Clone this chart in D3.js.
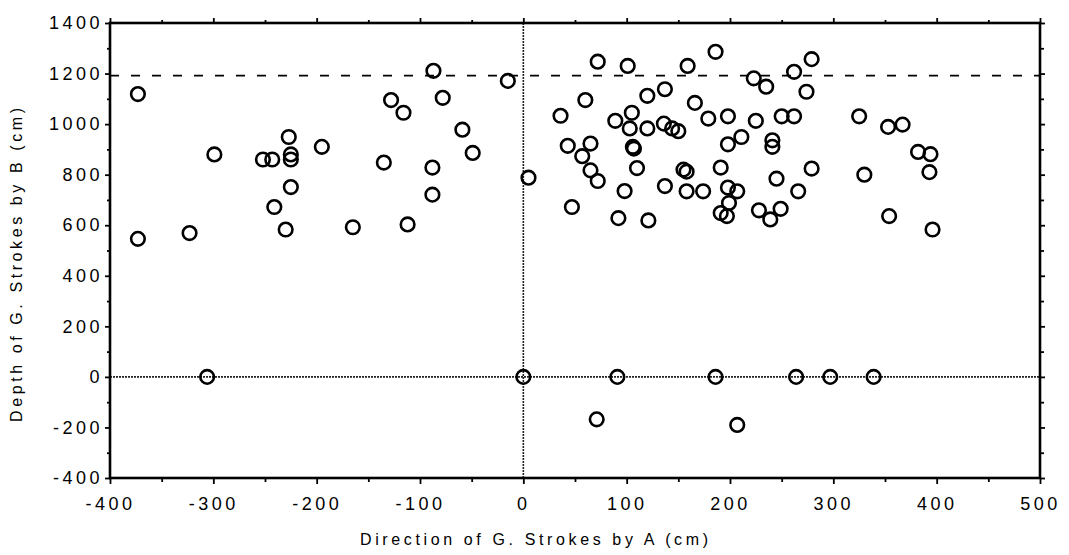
<!DOCTYPE html>
<html>
<head>
<meta charset="utf-8">
<script src="https://cdn.jsdelivr.net/npm/d3@7"></script>
<style>
  body { margin: 0; background: #fff; }
  .tick text { font-family: "Liberation Sans", Arial, Helvetica, sans-serif; font-size: 18px; letter-spacing: 3.5px; fill: #000; }
  .tick line { stroke: #000; stroke-width: 1.8; }
  .title { font-family: "Liberation Sans Narrow", "Liberation Sans", Arial, sans-serif; font-size: 16px; fill: #000; }
</style>
</head>
<body>
<div id="chart"></div>
<script>
// G. strokes: direction by A (x) vs depth by B (y), both in cm
var cloudX = [-373, -373, -323, -299, -252, -243, -227, -225, -225, -195, -225, -241, -230,
    -165, -135, -128, -116, -112, -87, -78, -88, -88, -59, -49, -15, 5,
    36, 43, 47, 57, 60, 65, 65, 72, 72, 89, 92, 98, 101, 103, 105, 106, 107, 110,
    120, 120, 121, 136, 137, 137, 144, 150,
    159, 186, 279, 262, 223, 235, 274, 166, 179, 198, 225, 250, 262, 211, 198,
    241, 241, 155, 158, 191, 245, 279, 158, 174, 198, 207, 199, 191, 197, 228,
    249, 239, 266,
    325, 353, 367, 382, 394, 393, 330, 354, 396];
var cloudY = [1119, 546, 569, 880, 860, 860, 949, 880, 860, 910, 751, 672, 583,
    592, 848, 1095, 1045, 603, 1211, 1104, 828, 721, 978, 886, 1171, 788,
    1033, 914, 672, 873, 1095, 923, 817, 775, 1247, 1013, 628, 735, 1230, 983, 1045, 910, 903, 826,
    1112, 983, 619, 1002, 1138, 755, 983, 972,
    1230, 1286, 1257, 1207, 1181, 1148, 1128, 1084, 1022, 1031, 1013, 1031, 1031, 949, 920,
    936, 910, 820, 812, 828, 784, 824, 734, 734, 749, 734, 688, 648, 636, 659,
    665, 623, 734,
    1031, 989, 998, 890, 881, 810, 800, 636, 583];

// strokes that landed on the zero line, and the two below it
var zeroX = [-306, 0, 91, 186, 264, 297, 339];
var belowX = [71, 207];
var belowY = [-168, -190];

var dashedRef = 1192;

var xTicks = [-400, -300, -200, -100, 0, 100, 200, 300, 400, 500];
var xMinor = [-350, -250, -150, -50, 50, 150, 250, 350, 450];
var yTicks = [-400, -200, 0, 200, 400, 600, 800, 1000, 1200, 1400];
var yMinor = [-300, -100, 100, 300, 500, 700, 900, 1100, 1300];

var W = 1069, H = 555;
var x = d3.scaleLinear().domain([-400, 500]).range([110, 1040]);
var y = d3.scaleLinear().domain([-400, 1400]).range([478, 23]);

var svg = d3.select("#chart").append("svg")
    .attr("width", W)
    .attr("height", H);

svg.append("rect").attr("width", W).attr("height", H).attr("fill", "#fff");

// reference lines
svg.append("line")
    .attr("x1", x(-400)).attr("x2", x(500))
    .attr("y1", y(0)).attr("y2", y(0))
    .attr("stroke", "#222").attr("stroke-width", 1.6)
    .attr("stroke-dasharray", "2,1");
svg.append("line")
    .attr("x1", x(0)).attr("x2", x(0))
    .attr("y1", y(-400)).attr("y2", y(1400))
    .attr("stroke", "#222").attr("stroke-width", 1.6)
    .attr("stroke-dasharray", "2,1");
svg.append("line")
    .attr("x1", x(-400)).attr("x2", x(500))
    .attr("y1", y(dashedRef)).attr("y2", y(dashedRef))
    .attr("stroke", "#000").attr("stroke-width", 1.7)
    .attr("stroke-dasharray", "9,12");

function noFmt() { return ""; }

// bottom axis
var gb = svg.append("g").attr("transform", "translate(0," + y(-400) + ")");
gb.call(d3.axisBottom(x).tickValues(xTicks).tickSize(6).tickPadding(13).tickFormat(function(d) { return String(d); }));
gb.append("g").call(d3.axisBottom(x).tickValues(xMinor).tickSize(4).tickFormat(noFmt));
// top axis
var gt = svg.append("g").attr("transform", "translate(0," + y(1400) + ")");
gt.call(d3.axisTop(x).tickValues(xTicks).tickSize(5).tickFormat(noFmt));
gt.append("g").call(d3.axisTop(x).tickValues(xMinor).tickSize(3).tickFormat(noFmt));
// left axis
var gl = svg.append("g").attr("transform", "translate(" + x(-400) + ",0)");
gl.call(d3.axisLeft(y).tickValues(yTicks).tickSize(5).tickPadding(2).tickFormat(function(d) { return String(d); }));
gl.append("g").call(d3.axisLeft(y).tickValues(yMinor).tickSize(3).tickFormat(noFmt));
// right axis
var gr = svg.append("g").attr("transform", "translate(" + x(500) + ",0)");
gr.call(d3.axisRight(y).tickValues(yTicks).tickSize(5).tickFormat(noFmt));
gr.append("g").call(d3.axisRight(y).tickValues(yMinor).tickSize(4).tickFormat(noFmt));

svg.selectAll(".domain").remove();

// frame
svg.append("rect")
    .attr("x", x(-400)).attr("y", y(1400))
    .attr("width", x(500) - x(-400))
    .attr("height", y(-400) - y(1400))
    .attr("fill", "none")
    .attr("stroke", "#000")
    .attr("stroke-width", 2.6);

// points
var pts = cloudX.map(function(d, i) { return [d, cloudY[i]]; })
    .concat(zeroX.map(function(d) { return [d, 0]; }))
    .concat(belowX.map(function(d, i) { return [d, belowY[i]]; }));

svg.append("g").selectAll("circle")
    .data(pts)
    .enter()
    .append("circle")
    .attr("cx", function(d) { return x(d[0]); })
    .attr("cy", function(d) { return y(d[1]); })
    .attr("r", 6.8)
    .attr("fill", "none")
    .attr("stroke", "#000")
    .attr("stroke-width", 2.6);

// titles
svg.append("text")
    .attr("class", "title")
    .attr("x", 534).attr("y", 545)
    .attr("text-anchor", "middle")
    .attr("textLength", 348)
    .attr("lengthAdjust", "spacing")
    .text("Direction of G. Strokes by A (cm)");

svg.append("text")
    .attr("class", "title")
    .attr("transform", "translate(22,265) rotate(-90)")
    .attr("text-anchor", "middle")
    .attr("textLength", 314)
    .attr("lengthAdjust", "spacing")
    .text("Depth of G. Strokes by B (cm)");
</script>
</body>
</html>
